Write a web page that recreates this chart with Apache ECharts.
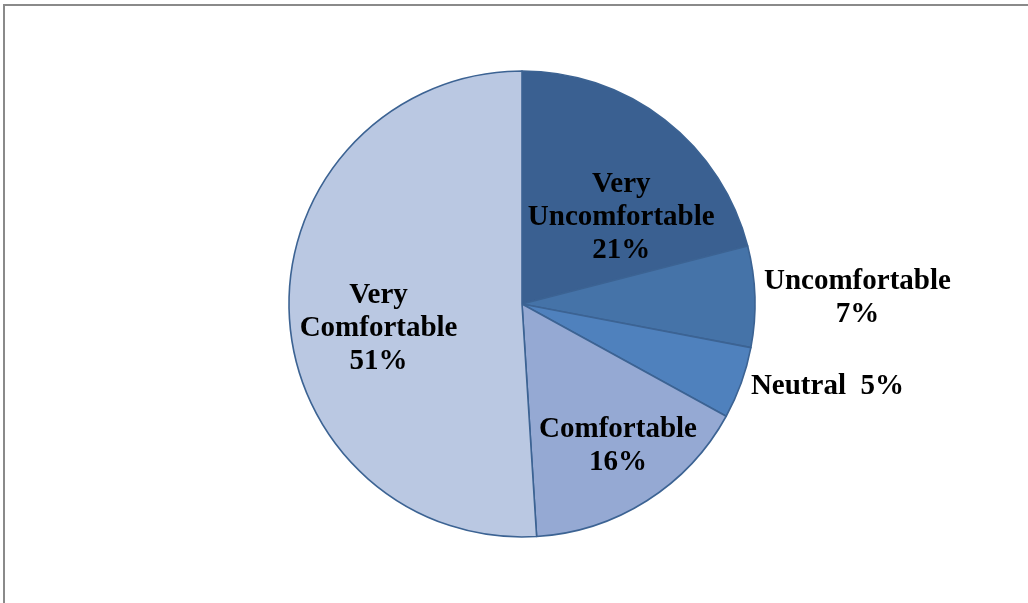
<!DOCTYPE html>
<html>
<head>
<meta charset="utf-8">
<script src="https://cdn.jsdelivr.net/npm/echarts@6/dist/echarts.min.js"></script>
<style>
html,body{margin:0;padding:0;background:#fff;}
#frame{position:absolute;left:3px;top:4px;width:1025px;height:599px;border-top:2px solid #8a8a8a;border-left:2px solid #8a8a8a;box-sizing:border-box;}
#chart{position:absolute;left:0;top:0;width:1028px;height:603px;}
</style>
</head>
<body>
<div id="frame"></div>
<div id="chart"></div>
<script>
const categories = ['Very Uncomfortable', 'Uncomfortable', 'Neutral', 'Comfortable', 'Very Comfortable'];
const labelTexts = ['Very\nUncomfortable\n21%', 'Uncomfortable\n7%', 'Neutral  5%', 'Comfortable\n16%', 'Very\nComfortable\n51%'];
const values = [21, 7, 5, 16, 51];
const colors = ['#3a6091', '#4573a8', '#4f81bd', '#95a9d3', '#bac8e2'];

// label nudges relative to the default inside-label position
const labelShift = [[26, 8], [216, -2], [193, 42], [32, 41], [-24, 21]];

const chart = echarts.init(document.getElementById('chart'));
chart.setOption({
  animation: false,
  series: [{
    type: 'pie',
    center: [522, 304],
    radius: [0, 233],
    startAngle: 90,
    clockwise: true,
    itemStyle: { borderColor: '#3c6393', borderWidth: 1.6 },
    label: {
      show: true,
      position: 'inside',
      color: '#000',
      fontFamily: '"Liberation Serif", "Times New Roman", serif',
      fontWeight: 'bold',
      fontSize: 29,
      lineHeight: 33,
      formatter: p => labelTexts[p.dataIndex]
    },
    labelLine: { show: false },
    labelLayout: p => ({ dx: labelShift[p.dataIndex][0], dy: labelShift[p.dataIndex][1] }),
    emphasis: { disabled: true },
    data: categories.map((c, i) => ({ name: c, value: values[i], itemStyle: { color: colors[i] } }))
  }]
});
</script>
</body>
</html>
